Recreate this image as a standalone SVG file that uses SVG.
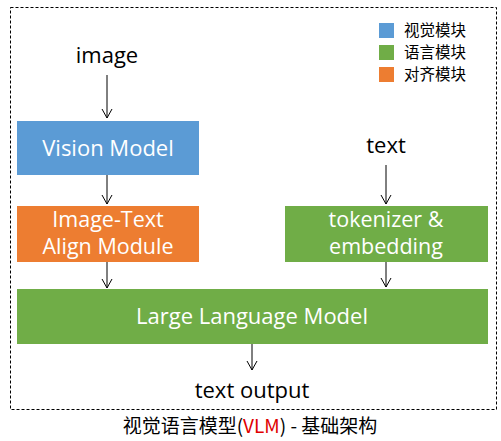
<svg xmlns="http://www.w3.org/2000/svg" width="501" height="441" viewBox="0 0 501 441">
<style>
.lbl{font-family:"Open Sans","Noto Sans",sans-serif;font-size:22px;fill:#000;text-anchor:middle}
.box{font-family:"Open Sans","Noto Sans",sans-serif;font-size:22px;fill:#fff;text-anchor:middle}
.box2{font-family:"Open Sans","Noto Sans",sans-serif;font-size:21.5px;fill:#fff;text-anchor:middle}
.leg{font-family:"Noto Sans CJK SC",sans-serif;font-size:15.5px;fill:#000}
.cap{font-family:"Noto Sans CJK SC",sans-serif;font-size:19px;fill:#000;text-anchor:middle}
.conn line{stroke:#000;stroke-width:1;fill:none}
</style>
<defs>
<marker id="a" markerWidth="12" markerHeight="12" refX="10" refY="6" orient="auto" markerUnits="userSpaceOnUse">
<polyline points="1,1 10,6 1,11" fill="none" stroke="#000" stroke-width="1"/>
</marker>
</defs>
<rect width="501" height="441" fill="#fff"/>
<rect x="10.5" y="7.5" width="486" height="402" fill="none" stroke="#000" stroke-width="1" stroke-dasharray="3,2"/>
<g id="legend">
<rect x="379" y="23" width="15" height="15" fill="#5B9BD5"/>
<text class="leg" x="404" y="36">视觉模块</text>
<rect x="379" y="45" width="15" height="15" fill="#70AD47"/>
<text class="leg" x="404" y="58">语言模块</text>
<rect x="379" y="67" width="15" height="15" fill="#ED7D31"/>
<text class="leg" x="404" y="80">对齐模块</text>
</g>
<g id="image"><text class="lbl" x="107" y="63">image</text></g>
<g id="text"><text class="lbl" x="386" y="153">text</text></g>
<g id="vision">
<rect x="17" y="121" width="182" height="54" fill="#5B9BD5"/>
<text class="box" x="108" y="156">Vision Model</text>
</g>
<g id="align">
<rect x="17" y="206" width="182" height="56" fill="#ED7D31"/>
<text class="box2" x="108" y="227">Image-Text</text>
<text class="box2" x="108" y="254">Align Module</text>
</g>
<g id="tokenizer">
<rect x="285" y="206" width="203" height="56" fill="#70AD47"/>
<text class="box2" x="386" y="227">tokenizer &amp;</text>
<text class="box2" x="386" y="254">embedding</text>
</g>
<g id="llm">
<rect x="17" y="289" width="471" height="55" fill="#70AD47"/>
<text class="box" x="252" y="324">Large Language Model</text>
</g>
<g id="output"><text class="lbl" x="252" y="398">text output</text></g>
<g class="conn" id="connectors">
<line x1="107" y1="75" x2="107" y2="118" marker-end="url(#a)"/>
<line x1="107" y1="175" x2="107" y2="204" marker-end="url(#a)"/>
<line x1="107" y1="262" x2="107" y2="288" marker-end="url(#a)"/>
<line x1="386" y1="165" x2="386" y2="204" marker-end="url(#a)"/>
<line x1="386" y1="262" x2="386" y2="287" marker-end="url(#a)"/>
<line x1="252" y1="344" x2="252" y2="370" marker-end="url(#a)"/>
</g>
<text class="cap" x="250" y="433">视觉语言模型(<tspan fill="#E00000">VLM</tspan>) - 基础架构</text>
</svg>
